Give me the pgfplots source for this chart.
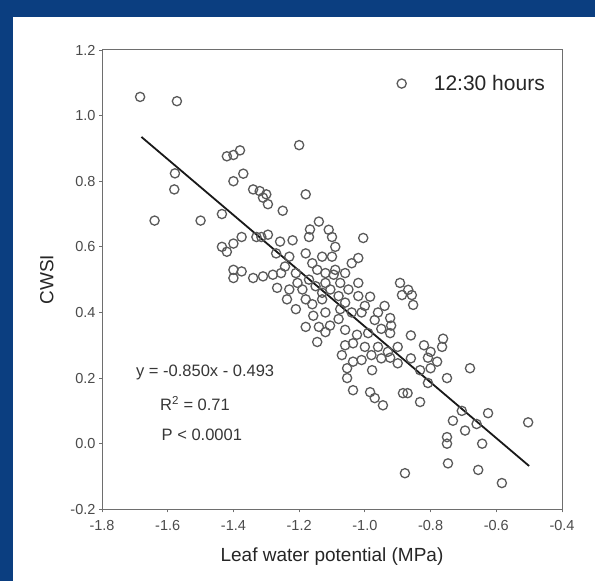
\documentclass[border=0pt]{standalone}
\usepackage{fontspec}
\setmainfont{Liberation Sans}
\usepackage{pgfplots}
\pgfplotsset{compat=1.18}
\definecolor{bord}{RGB}{11,62,128}
\definecolor{mk}{RGB}{90,90,90}
\definecolor{ax}{RGB}{110,110,110}
\definecolor{tx}{RGB}{55,55,55}
\definecolor{tk}{RGB}{75,75,75}
\begin{document}
\begin{tikzpicture}
\fill[bord] (0pt,0pt) rectangle (595pt,581pt);
\fill[white] (13pt,0pt) rectangle (595pt,564pt);
\begin{axis}[
  at={(102pt,71.7pt)}, anchor=south west, scale only axis,
  width=460pt, height=459.3pt,
  xmin=-1.8, xmax=-0.4, ymin=-0.2, ymax=1.2,
  xtick={-1.8,-1.6,-1.4,-1.2,-1.0,-0.8,-0.6,-0.4},
  ytick={-0.2,0,0.2,0.4,0.6,0.8,1.0,1.2},
  /pgf/number format/assume math mode=true,
  /pgf/number format/.cd, fixed, fixed zerofill, precision=1, /pgfplots/.cd,
  tick align=outside, major tick length=3pt,
  xtick pos=bottom, ytick pos=left,
  axis line style={ax, line width=1pt},
  every tick/.style={ax, line width=0.9pt},
  tick label style={font=\fontsize{14.5}{17}\selectfont, text=tk},
  xticklabel style={yshift=-5pt},
  label style={font=\fontsize{19}{22}\selectfont, text=black!85},
  xlabel={Leaf water potential (MPa)},
  ylabel={CWSI},
  xlabel style={at={(axis description cs:0.5,-0.104)}, anchor=center},
  ylabel style={at={(axis description cs:-0.12,0.5)}, anchor=center},
  legend style={draw=none, fill=none, at={(axis description cs:1,1)}, anchor=north east,
    xshift=-12pt, yshift=-21pt, font=\fontsize{21}{24}\selectfont, text=black!85},
  legend image code/.code={\path (0pt,0pt) (36pt,0pt); \draw[#1] plot coordinates {(6pt,0pt)};},
]
\addplot[only marks, mark=o, mark size=4.6pt, mark options={draw=mk, line width=1.3pt}] coordinates {
(-1.684,1.057) (-1.572,1.044) (-1.578,0.824) (-1.580,0.775) (-1.640,0.680) (-1.500,0.680)
(-1.420,0.876) (-1.400,0.880) (-1.380,0.894) (-1.400,0.800) (-1.370,0.823) (-1.340,0.775)
(-1.320,0.770) (-1.310,0.750) (-1.300,0.760) (-1.295,0.730) (-1.250,0.710) (-1.435,0.700)
(-1.200,0.910) (-1.180,0.760) (-1.140,0.677) (-1.167,0.653) (-1.170,0.630) (-1.110,0.652)
(-1.100,0.630) (-1.090,0.600) (-1.005,0.627) (-1.020,0.566)
(-1.435,0.600) (-1.420,0.585) (-1.400,0.610) (-1.375,0.630) (-1.400,0.530) (-1.400,0.505)
(-1.375,0.525) (-1.340,0.505) (-1.310,0.510) (-1.330,0.630) (-1.315,0.630) (-1.295,0.637)
(-1.258,0.616) (-1.220,0.620)
(-1.100,0.570) (-1.130,0.570) (-1.160,0.550) (-1.145,0.530) (-1.090,0.530) (-1.095,0.515)
(-1.280,0.515) (-1.255,0.520) (-1.243,0.540) (-1.210,0.520) (-1.267,0.475) (-1.230,0.470)
(-1.205,0.490) (-1.170,0.500) (-1.120,0.490) (-1.105,0.470) (-1.075,0.490) (-1.020,0.490)
(-0.984,0.448) (-0.893,0.490) (-0.887,0.453) (-1.237,0.440) (-1.210,0.410) (-1.160,0.425)
(-1.130,0.440) (-1.157,0.390) (-1.060,0.430) (-1.075,0.410) (-1.040,0.400) (-1.010,0.400)
(-0.970,0.377) (-0.923,0.383) (-1.180,0.356) (-1.140,0.356) (-1.106,0.360) (-1.060,0.347)
(-1.024,0.332) (-0.990,0.337) (-1.145,0.310) (-1.060,0.300) (-1.036,0.306) (-1.000,0.295)
(-0.960,0.295) (-0.923,0.337) (-0.900,0.295)
(-0.868,0.469) (-0.857,0.453) (-0.853,0.423) (-0.860,0.330) (-0.762,0.320) (-0.765,0.295)
(-0.800,0.280)
(-1.054,0.230) (-1.054,0.200) (-1.036,0.250) (-1.010,0.255) (-0.978,0.224) (-1.036,0.163)
(-0.984,0.157) (-0.970,0.139) (-0.945,0.117) (-0.884,0.154) (-0.923,0.262) (-0.900,0.245)
(-0.878,-0.090)
(-0.860,0.260) (-0.808,0.262) (-0.832,0.224) (-0.808,0.185) (-0.800,0.230) (-0.750,0.200)
(-0.680,0.230) (-0.870,0.154) (-0.832,0.127) (-0.732,0.070) (-0.695,0.040) (-0.625,0.093)
(-0.660,0.060) (-0.750,0.020) (-0.750,0.000) (-0.643,0.000) (-0.503,0.065) (-0.747,-0.060)
(-0.655,-0.080) (-0.583,-0.120)
(-1.190,0.470) (-1.150,0.480) (-1.120,0.520) (-1.080,0.450) (-1.050,0.470) (-1.000,0.420)
(-0.950,0.350) (-0.940,0.420) (-1.080,0.380) (-1.120,0.400) (-0.980,0.270) (-0.930,0.280)
(-1.230,0.570) (-1.270,0.580) (-1.180,0.580) (-0.820,0.300) (-0.780,0.250)
(-1.060,0.520) (-1.040,0.550) (-1.130,0.460) (-1.180,0.440) (-1.020,0.450) (-0.960,0.400)
(-0.920,0.360) (-0.950,0.260) (-1.120,0.340) (-1.070,0.270) (-0.705,0.100)
};
\addlegendentry{12:30 hours}
\addplot[black!90, line width=1.8pt, forget plot] coordinates {(-1.68,0.935) (-0.50,-0.068)};
\node[font=\fontsize{16.5}{19}\selectfont, text=tx] at (axis cs:-1.486,0.218) {y = -0.850x - 0.493};
\node[font=\fontsize{16.5}{19}\selectfont, text=tx] at (axis cs:-1.517,0.123) {R\textsuperscript{2} = 0.71};
\node[font=\fontsize{16.5}{19}\selectfont, text=tx] at (axis cs:-1.496,0.026) {P < 0.0001};
\end{axis}
\end{tikzpicture}
\end{document}
